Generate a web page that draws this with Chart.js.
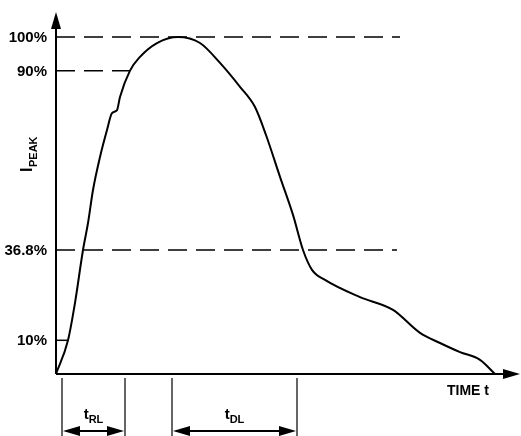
<!DOCTYPE html>
<html>
<head>
<meta charset="utf-8">
<script src="https://cdn.jsdelivr.net/npm/chart.js@4"></script>
<style>
  body { margin: 0; background: #fff; }
  #wrap { width: 521px; height: 436px; }
</style>
</head>
<body>
<div id="wrap"><canvas id="pulse" width="521" height="436"></canvas></div>
<script>
// current pulse, time in arbitrary units, current in % of peak
const pulseTime = [0, 12, 19, 27, 32, 37, 44, 51, 56, 61, 64, 74, 84, 101, 122, 144, 164, 184, 199, 210, 224, 237, 247, 256, 269, 304, 337, 364, 384, 404, 424, 439];
const pulseCurrent = [0, 10, 21.1, 36.8, 44.8, 54.6, 64.4, 72.4, 77.4, 78.3, 82.2, 90, 94.1, 98.2, 100, 98.2, 92.3, 85.2, 79.2, 70.9, 58.5, 47.2, 36.8, 30.9, 27.9, 22.8, 19, 12.2, 9.2, 6.5, 4.2, 0];

// reference levels: value, where the line stops, dashed or not
const levelValues = [100, 90, 36.8, 10];
const levelLabels = ['100%', '90%', '36.8%', '10%'];
const levelEnds = [344, 74, 341, 12];
const levelDashed = [true, true, true, false];

// time markers for t_RL and t_DL
const markerTimes = [6, 69, 116, 241];
const spanLabels = [['t', 'RL'], ['t', 'DL']];

const FONT = '"Liberation Sans", Arial, sans-serif';

const datasets = [{
    data: pulseTime.map((t, i) => ({ x: t, y: pulseCurrent[i] })),
    borderColor: '#000',
    borderWidth: 2,
    pointRadius: 0,
    cubicInterpolationMode: 'monotone',
    fill: false
}];
levelValues.forEach((v, i) => {
    datasets.push({
        data: [{ x: 0, y: v }, { x: levelEnds[i], y: v }],
        borderColor: '#000',
        borderWidth: 1.5,
        borderDash: levelDashed[i] ? [19, 9] : [],
        pointRadius: 0,
        fill: false
    });
});

function arrowHead(ctx, x, y, dir) {
    // dir: 'up', 'right', 'left'
    ctx.beginPath();
    if (dir === 'up') {
        ctx.moveTo(x, y); ctx.lineTo(x - 5, y + 17); ctx.lineTo(x + 5, y + 17);
    } else if (dir === 'right') {
        ctx.moveTo(x, y); ctx.lineTo(x - 17, y - 5); ctx.lineTo(x - 17, y + 5);
    } else {
        ctx.moveTo(x, y); ctx.lineTo(x + 17, y - 5); ctx.lineTo(x + 17, y + 5);
    }
    ctx.closePath();
    ctx.fill();
}

const decorations = {
    id: 'decorations',
    afterDatasetsDraw(chart) {
        const ctx = chart.ctx;
        const xs = chart.scales.x, ys = chart.scales.y;
        const x0 = xs.getPixelForValue(0), y0 = ys.getPixelForValue(0);
        ctx.save();
        ctx.strokeStyle = '#000';
        ctx.fillStyle = '#000';

        // axes with arrows
        ctx.lineWidth = 2;
        ctx.beginPath();
        ctx.moveTo(x0, y0); ctx.lineTo(x0, 28);
        ctx.moveTo(x0, y0); ctx.lineTo(505, y0);
        ctx.stroke();
        arrowHead(ctx, x0, 12, 'up');
        arrowHead(ctx, 520, y0, 'right');

        // level labels
        ctx.font = 'bold 15px ' + FONT;
        ctx.textAlign = 'right';
        ctx.textBaseline = 'middle';
        levelValues.forEach((v, i) => {
            ctx.fillText(levelLabels[i], 47, ys.getPixelForValue(v) + 1);
        });

        // y title I_PEAK
        ctx.save();
        ctx.translate(28, 150);
        ctx.rotate(-Math.PI / 2);
        ctx.textAlign = 'left';
        ctx.textBaseline = 'middle';
        ctx.font = 'bold 16px ' + FONT;
        ctx.fillText('I', -22, 0);
        ctx.font = 'bold 11px ' + FONT;
        ctx.fillText('PEAK', -17, 6);
        ctx.restore();

        // x title
        ctx.font = 'bold 14px ' + FONT;
        ctx.textAlign = 'left';
        ctx.fillText('TIME t', 447, 391);

        // time markers
        ctx.lineWidth = 1.2;
        const mx = markerTimes.map(t => xs.getPixelForValue(t));
        ctx.beginPath();
        mx.forEach(px => { ctx.moveTo(px, 378); ctx.lineTo(px, 436); });
        ctx.stroke();

        // span arrows and labels
        for (let k = 0; k < 2; k++) {
            const a = mx[k * 2], b = mx[k * 2 + 1];
            const ay = 431;
            ctx.lineWidth = 2;
            ctx.beginPath();
            ctx.moveTo(a + 10, ay); ctx.lineTo(b - 10, ay);
            ctx.stroke();
            arrowHead(ctx, a + 1, ay, 'left');
            arrowHead(ctx, b - 1, ay, 'right');
            const cx = (a + b) / 2;
            ctx.textAlign = 'left';
            ctx.font = 'bold 15px ' + FONT;
            const tw = ctx.measureText(spanLabels[k][0]).width;
            ctx.font = 'bold 11px ' + FONT;
            const sw = ctx.measureText(spanLabels[k][1]).width;
            const sx = cx - (tw + sw) / 2;
            ctx.font = 'bold 15px ' + FONT;
            ctx.fillText(spanLabels[k][0], sx, 415);
            ctx.font = 'bold 11px ' + FONT;
            ctx.fillText(spanLabels[k][1], sx + tw, 420);
        }
        ctx.restore();
    }
};

new Chart(document.getElementById('pulse'), {
    type: 'line',
    data: { datasets: datasets },
    options: {
        responsive: false,
        animation: false,
        layout: { padding: { left: 56, right: 1, top: 12, bottom: 62 } },
        plugins: { legend: { display: false }, tooltip: { enabled: false } },
        scales: {
            x: { type: 'linear', min: 0, max: 464, display: false },
            y: { type: 'linear', min: 0, max: 107.4, display: false }
        }
    },
    plugins: [decorations]
});
</script>
</body>
</html>
